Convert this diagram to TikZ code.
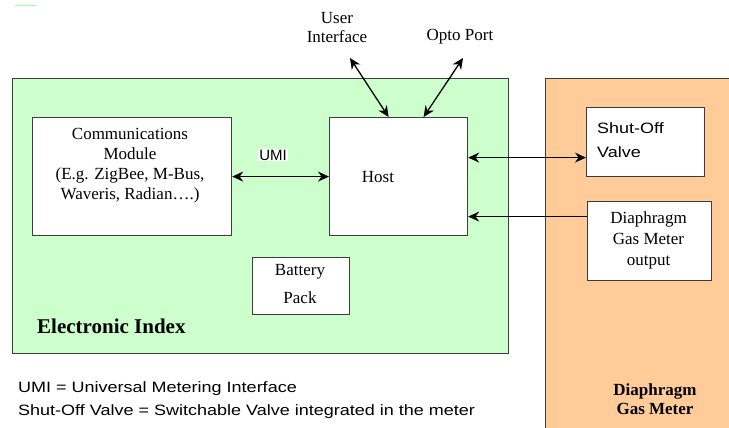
\documentclass[tikz,border=0pt]{standalone}
\usepackage{fontspec}
\setmainfont{Liberation Serif}
\setsansfont{Liberation Sans}
\newfontfamily\widesans[FakeStretch=1.2]{Liberation Sans}
\usetikzlibrary{arrows.meta,calc}
\definecolor{idxgreen}{RGB}{204,255,204}
\definecolor{metorange}{RGB}{255,204,153}
\definecolor{edge}{RGB}{60,60,60}
\begin{document}
\begin{tikzpicture}[x=1pt,y=-1pt,
 area/.style={draw=edge, line width=1.3pt, inner sep=0pt, anchor=north west},
 box/.style={draw=edge, line width=1.2pt, fill=white, inner sep=0pt, anchor=north west},
 arr/.style={line width=1.3pt, {Stealth[length=11pt,width=10pt]}-{Stealth[length=11pt,width=10pt]}},
 arrone/.style={line width=1.3pt, -{Stealth[length=11pt,width=10pt]}},
 serif/.style={font=\fontsize{17}{20}\selectfont, align=center, inner sep=0pt},
 sans/.style={font=\widesans\fontsize{15}{22}\selectfont, inner sep=0pt},
 boldlbl/.style={font=\bfseries\fontsize{21}{24}\selectfont, inner sep=0pt},
]
\useasboundingbox (0,0) rectangle (729,428);
\clip (0,0) rectangle (729,428);
\fill[white] (0,0) rectangle (729,428);
\draw[idxgreen!80!green, line width=1pt] (15,6) -- (37,6);

% areas
\node[area, fill=idxgreen, minimum width=496pt, minimum height=275pt] (index) at (12,78) {};
\node[area, fill=metorange, minimum width=200pt, minimum height=370pt] (meter) at (545,78) {};

% boxes
\node[box, minimum width=199pt, minimum height=118pt] (comm) at (32,117) {};
\node[box, minimum width=138pt, minimum height=118pt] (host) at (329,117) {};
\node[box, minimum width=97pt, minimum height=57pt] (batt) at (252,257) {};
\node[box, minimum width=118pt, minimum height=69pt] (valve) at (586,107) {};
\node[box, minimum width=124pt, minimum height=79pt] (gas) at (587,201) {};

% texts
\node[serif] (commtxt) at (130,165.5) {Communications\\Module\\(E.g. ZigBee, M-Bus,\\Waveris, Radian\ldots.)};
\node[serif] (hosttxt) at (378,177) {Host};
\node[serif, font=\fontsize{17}{28}\selectfont] (batttxt) at (300,284) {Battery\\Pack};
\node[sans, fill=white, inner sep=1pt, font=\sffamily\fontsize{15}{20}\selectfont] (umi) at (273,155) {UMI};
\node[sans, align=left, anchor=west, font=\widesans\fontsize{15}{24}\selectfont] (valvetxt) at (597,140) {Shut-Off\\Valve};
\node[serif, font=\fontsize{17}{21}\selectfont] (gastxt) at (648.5,240) {Diaphragm\\Gas Meter\\output};
\node[boldlbl, anchor=west] (idxlbl) at (37,326) {Electronic Index};
\node[boldlbl, align=center, font=\bfseries\fontsize{17}{19}\selectfont] (meterlbl) at (655,399) {Diaphragm\\Gas Meter};
\node[serif, font=\fontsize{17}{19}\selectfont] (uilbl) at (337,28) {User\\Interface};
\node[serif] (optolbl) at (460,37) {Opto Port};
\node[sans, anchor=west] (note1) at (18,389) {UMI = Universal Metering Interface};
\node[sans, anchor=west] (note2) at (18,412) {Shut-Off Valve = Switchable Valve integrated in the meter};

% connectors
\coordinate (ui) at (350,58);
\coordinate (opto) at (463,58);
\draw[arr] (ui) -- ([xshift=-10pt]host.north);
\draw[arr] (opto) -- ([xshift=25pt]host.north);
\draw[arr] (comm.east) -- (host.west);
\draw[arr] ([yshift=19pt]host.east) -- ([yshift=-15.5pt]valve.west);
\draw[arrone] ([yshift=24.5pt]gas.west) -- ([yshift=-40pt]host.east);
\end{tikzpicture}
\end{document}
